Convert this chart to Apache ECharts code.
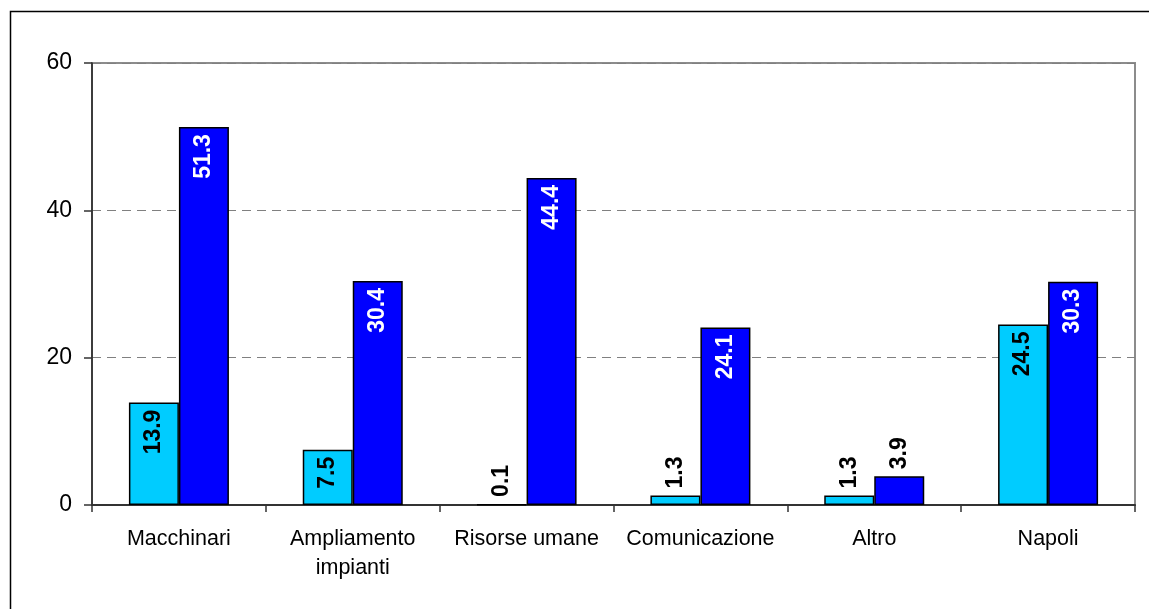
<!DOCTYPE html>
<html>
<head>
<meta charset="utf-8">
<script src="https://cdn.jsdelivr.net/npm/echarts@6/dist/echarts.min.js"></script>
<style>
html,body{margin:0;padding:0;background:#fff;}
#c{width:1149px;height:609px;}
</style>
</head>
<body>
<div id="c"></div>
<script>
const categories = ['Macchinari', 'Ampliamento\nimpianti', 'Risorse umane', 'Comunicazione', 'Altro', 'Napoli'];
const seriesA = [13.9, 7.5, 0.1, 1.3, 1.3, 24.5];
const seriesB = [51.3, 30.4, 44.4, 24.1, 3.9, 30.3];
const yTicks = [0, 20, 40, 60];

const FONT = '"Liberation Sans", Arial, sans-serif';

function buildData(values, insideColor) {
  return values.map(function (v) {
    const inside = v >= 5;
    return {
      value: v,
      label: inside ? {
        position: 'insideTop', rotate: 90, align: 'right', verticalAlign: 'middle',
        distance: 7, color: insideColor
      } : {
        position: 'top', rotate: 90, align: 'left', verticalAlign: 'middle',
        distance: 7, color: '#000'
      }
    };
  });
}

const labelBase = {
  show: true, fontFamily: FONT, fontWeight: 'bold', fontSize: 23,
  formatter: function (p) { return p.value.toFixed(1); }
};

const chart = echarts.init(document.getElementById('c'), null, {renderer: 'canvas'});
chart.setOption({
  animation: false,
  backgroundColor: '#fff',
  graphic: [{
    type: 'rect', shape: {x: 10.5, y: 11.5, width: 1300, height: 800},
    style: {fill: 'none', stroke: '#000', lineWidth: 1.5}, silent: true, z: -1
  }],
  grid: {left: 92, right: 14, top: 63, bottom: 104, show: true, borderColor: '#8c8c8c', borderWidth: 2},
  xAxis: {
    type: 'category', data: categories,
    axisLine: {lineStyle: {color: '#333', width: 2}},
    axisTick: {show: true, length: 7, lineStyle: {color: '#333', width: 1.5}},
    axisLabel: {color: '#000', fontFamily: FONT, fontSize: 21.5, margin: 20, lineHeight: 29, interval: 0}
  },
  yAxis: {
    type: 'value', min: 0, max: 60, interval: 20,
    axisLine: {show: true, lineStyle: {color: '#222', width: 1.5}},
    axisTick: {show: true, length: 8, lineStyle: {color: '#333', width: 1.5}},
    axisLabel: {color: '#000', fontFamily: FONT, fontSize: 23, margin: 20,
      formatter: function (v) { return yTicks.indexOf(v) >= 0 ? String(v) : ''; }},
    splitLine: {show: true, lineStyle: {color: '#808080', type: [9, 6], width: 1.2}}
  },
  series: [{
    type: 'bar', data: buildData(seriesA, '#000'), barWidth: 50, barGap: '0%',
    itemStyle: {color: '#00CCFF', borderColor: '#000', borderWidth: 1.5},
    label: labelBase
  }, {
    type: 'bar', data: buildData(seriesB, '#fff'), barWidth: 50, barGap: '0%',
    itemStyle: {color: '#0000FF', borderColor: '#000', borderWidth: 1.5},
    label: labelBase
  }]
});
</script>
</body>
</html>
